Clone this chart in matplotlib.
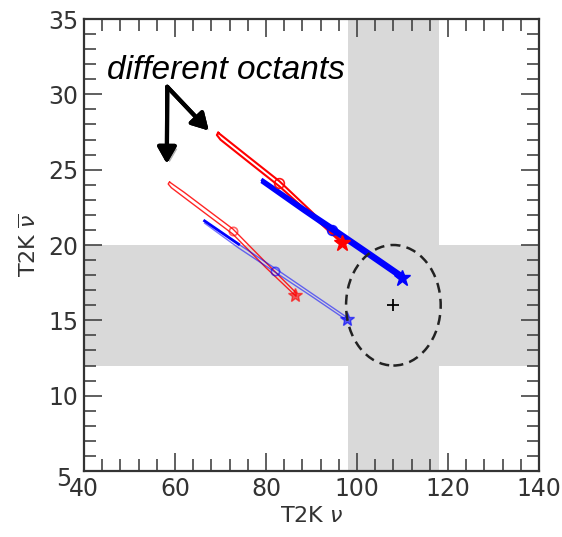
import matplotlib
matplotlib.use("Agg")
import matplotlib.pyplot as plt
from matplotlib.patches import Ellipse
from matplotlib.ticker import MultipleLocator
import matplotlib.transforms as mtransforms
import matplotlib.patheffects as pe

# expected event numbers (T2K nu, T2K nubar)
# upper pair: one octant, lower pair: the other octant
red_up_x = [69.5, 72.0, 76.0, 83.0, 90.0, 97.0, 97.2, 90.0, 83.0, 76.0, 72.0, 70.0, 69.2, 69.5]
red_up_y = [27.45, 26.85, 25.89, 24.22, 22.22, 20.13, 19.98, 21.98, 23.88, 25.55, 26.51, 26.99, 27.3, 27.45]
blue_up_x = [79.3, 88.0, 95.0, 103.0, 110.2, 110.2, 103.0, 95.0, 88.0, 79.3]
blue_up_y = [24.3, 22.5, 21.1, 19.45, 17.95, 17.7, 19.2, 20.85, 22.3, 24.15]
red_lo_x = [58.8, 62.0, 66.0, 72.7, 80.0, 86.6, 86.6, 80.0, 72.7, 66.0, 62.0, 59.2, 58.5, 58.8]
red_lo_y = [24.18, 23.5, 22.59, 21.07, 18.83, 16.83, 16.6, 18.49, 20.73, 22.25, 23.16, 23.8, 24.05, 24.18]
blue_lo_x = [66.5, 74.0, 82.0, 90.0, 97.8, 97.8, 90.0, 82.0, 74.0, 66.5]
blue_lo_y = [21.6, 20.05, 18.45, 16.8, 15.2, 15.0, 16.6, 18.2, 19.8, 21.45]

# circle / star markers on each curve
circ_x = [82.8, 94.4, 72.7, 81.9]
circ_y = [24.1, 21.0, 20.9, 18.3]
star_x = [96.8, 110.0, 86.4, 97.7]
star_y = [20.1, 17.8, 16.7, 15.1]
mark_cols = ["red", "blue", "red", "blue"]

# measured point and its 1 sigma bands
meas_x, meas_y = 108.0, 16.0
band_x = [98.0, 118.0]
band_y = [12.0, 20.0]
ell_w, ell_h = 20.8, 8.0

fig = plt.figure(figsize=(5.62, 5.37), dpi=100)
ax = fig.add_axes([0.1495, 0.1229, 0.8095, 0.8417])

grey = "#d9d9d9"
ax.axvspan(band_x[0], band_x[1], color=grey, lw=0, zorder=0)
ax.axhspan(band_y[0], band_y[1], color=grey, lw=0, zorder=0)

ax.plot(red_lo_x, red_lo_y, color="red", lw=1.0, alpha=0.85, zorder=2)
ax.plot(blue_lo_x, blue_lo_y, color="blue", lw=1.0, alpha=0.55, zorder=2)
ax.plot(blue_lo_x[:2], blue_lo_y[:2], color="blue", lw=2.0, zorder=2)
ax.plot(red_up_x, red_up_y, color="red", lw=1.5, zorder=3)
ax.plot(blue_up_x, blue_up_y, color="blue", lw=2.5, zorder=4)

for i in range(4):
    thin = i >= 2
    ax.plot(circ_x[i], circ_y[i], "o", mfc="none", mec=mark_cols[i],
            ms=7 if not thin else 6, mew=1.2, alpha=0.6 if thin else 0.9, zorder=5)
    ax.plot(star_x[i], star_y[i], "*", color=mark_cols[i],
            ms=12 if not thin else 10, alpha=0.6 if thin else 1.0, zorder=5)

ax.add_patch(Ellipse((meas_x, meas_y), ell_w, ell_h, fill=False, ec="#222222",
                     lw=1.8, ls=(0, (4, 2.5)), zorder=5))
ax.plot(meas_x, meas_y, "+", color="black", ms=9, mew=1.3, zorder=6)

# annotation
ax.text(45.0, 31.0, "different octants", fontsize=24, style="italic",
        family=["Liberation Sans", "DejaVu Sans"], zorder=7)
shadow = [pe.withSimplePatchShadow(offset=(2, -2), alpha=0.3), pe.Normal()]
for tip in [(58.2, 25.4), (67.4, 27.6)]:
    ax.annotate("", xy=tip, xytext=(58.3, 30.5),
                arrowprops=dict(arrowstyle="-|>,head_length=0.7,head_width=0.4",
                                lw=3.0, color="black", shrinkA=0, shrinkB=0,
                                mutation_scale=14, path_effects=shadow),
                zorder=7)

ax.set_xlim(40, 140)
ax.set_ylim(5, 35)
ax.xaxis.set_major_locator(MultipleLocator(20))
ax.xaxis.set_minor_locator(MultipleLocator(4))
ax.yaxis.set_major_locator(MultipleLocator(5))
ax.yaxis.set_minor_locator(MultipleLocator(1))
ax.tick_params(which="both", direction="in", top=True, right=True,
               color="#444444", width=1.2, labelsize=17, labelcolor="#333333")
ax.tick_params(which="major", length=13, pad=4)
ax.tick_params(which="minor", length=8.5)
for s in ax.spines.values():
    s.set_color("#333333")
    s.set_linewidth(1.6)

ax.set_xlabel(r"T2K $\nu$", fontsize=16, color="#333333", labelpad=4)
ax.set_ylabel(r"T2K $\overline{\nu}$", fontsize=16, color="#333333", labelpad=6)

# the lowest y label sits a bit below its tick in the original
for t in ax.get_yticklabels():
    if t.get_text() == "5":
        t.set_transform(t.get_transform() +
                        mtransforms.ScaledTranslation(-7 / 100, -5 / 100, fig.dpi_scale_trans))

fig.savefig("out.png", dpi=100)
